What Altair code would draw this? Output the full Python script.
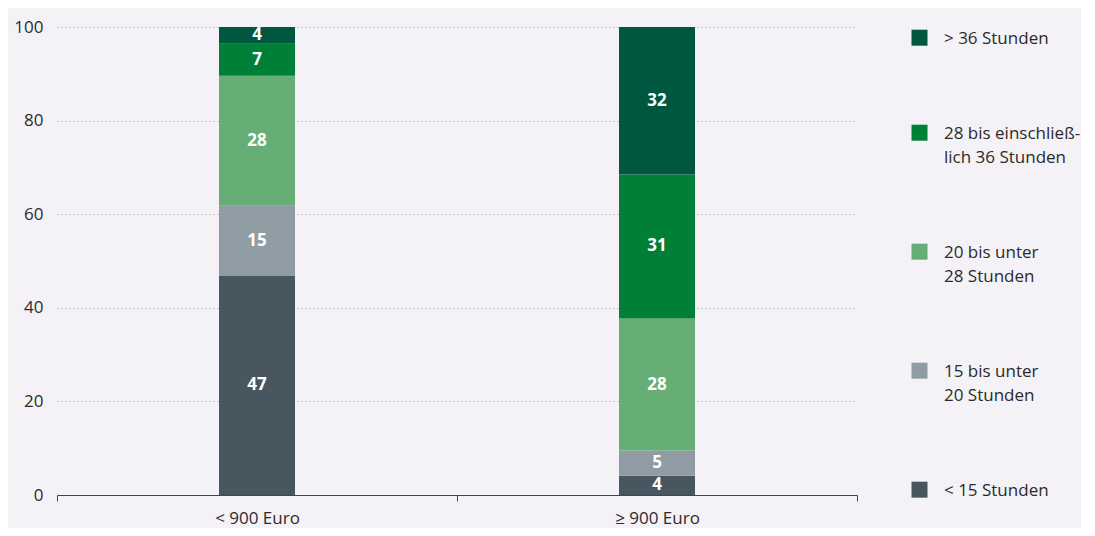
import altair as alt
import pandas as pd

groups = ["< 900 Euro", "≥ 900 Euro"]
categories = ["> 36 Stunden", "28 bis einschließ-|lich 36 Stunden", "20 bis unter|28 Stunden",
              "15 bis unter|20 Stunden", "< 15 Stunden"]
colors = ["#00573f", "#007f36", "#66ae75", "#8f9ca4", "#48575f"]
# stacking order: bottom to top
stack_order = ["< 15 Stunden", "15 bis unter|20 Stunden", "20 bis unter|28 Stunden",
               "28 bis einschließ-|lich 36 Stunden", "> 36 Stunden"]
values_low = [46.8, 15.0, 27.8, 6.8, 3.6]
values_high = [4.1, 5.4, 28.2, 30.8, 31.5]
labels_low = ["47", "15", "28", "7", "4"]
labels_high = ["4", "5", "28", "31", "32"]

rows = []
for g, vals, labs in [(groups[0], values_low, labels_low), (groups[1], values_high, labels_high)]:
    for i, (c, v, l) in enumerate(zip(stack_order, vals, labs)):
        rows.append({"group": g, "cat": c, "value": v, "label": l, "ord": i})
df = pd.DataFrame(rows)

FONT = "Open Sans"
TXT = "#2b2b2b"
FS = 17

base = alt.Chart(df).transform_stack(
    stack="value", as_=["y0", "y1"], groupby=["group"], sort=[alt.SortField("ord", order="ascending")]
).transform_calculate(mid="(datum.y0 + datum.y1) / 2")

xscale = alt.Scale(paddingInner=0, paddingOuter=0)
xenc = alt.X("group:N", sort=groups, title=None, scale=xscale,
             axis=alt.Axis(labelAngle=0, tickBand="extent", domainColor="#444", tickColor="#444",
                           tickSize=6, labelPadding=9, labelFontSize=FS, labelColor=TXT,
                           labelFont=FONT, grid=False))

# square symbol shifted down so it lines up with the first label line
SQUARE = "M -1 -0.1 H 1 V 1.9 H -1 Z"

bars = base.mark_bar(width=alt.RelativeBandSize(0.19)).encode(
    x=xenc,
    y=alt.Y("y0:Q", scale=alt.Scale(domain=[0, 100]), title=None,
            axis=alt.Axis(values=[0, 20, 40, 60, 80, 100], domain=False, ticks=False,
                          labelPadding=14, labelFontSize=FS, labelColor=TXT, labelFont=FONT,
                          grid=True, gridDash=[1, 3], gridColor="#9a9a9a", gridWidth=1,
                          gridOpacity=alt.ExprRef("datum.value == 0 ? 0 : 1"))),
    y2="y1:Q",
    color=alt.Color("cat:N", scale=alt.Scale(domain=categories, range=colors), title=None,
                    legend=alt.Legend(symbolType=SQUARE, symbolSize=256, symbolStrokeWidth=0,
                                      labelFontSize=FS, labelFont=FONT, labelColor=TXT,
                                      labelExpr="split(datum.label, '|')", labelOffset=16,
                                      rowPadding=70, orient="none", legendX=854, legendY=-5,
                                      labelLimit=300, labelBaseline="top", symbolOpacity=1)),
)

text = base.mark_text(color="white", fontWeight="bold", fontSize=FS, font=FONT).encode(
    x=alt.X("group:N", sort=groups, scale=xscale),
    y=alt.Y("mid:Q"),
    text="label:N",
)

chart = (bars + text).properties(
    width=800, height=468, background="#f4f2f6",
    padding={"top": 10, "left": 5, "right": 0, "bottom": 2}
).configure(
    style={"guide-label": {"lineHeight": 24}}
).configure_view(stroke=None).configure_axis(labelFont=FONT)

chart.save("out.html", embed_options={"renderer": "svg", "actions": False})
